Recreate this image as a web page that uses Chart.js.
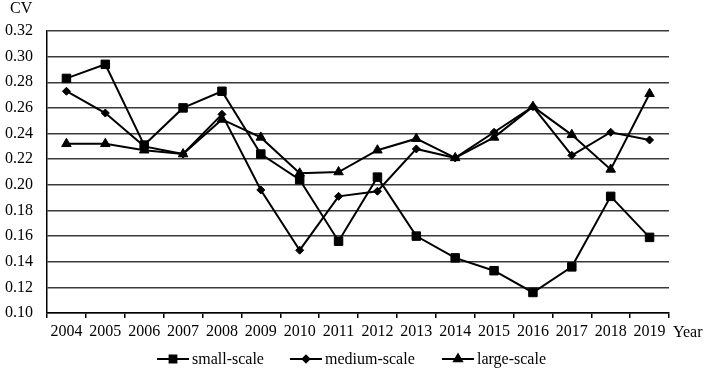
<!DOCTYPE html>
<html><head><meta charset="utf-8">
<script src="https://cdn.jsdelivr.net/npm/chart.js@4/dist/chart.umd.min.js"></script>
<style>html,body{margin:0;padding:0;background:#fff}#wrap{width:706px;height:371px}</style>
</head><body><div id="wrap"><canvas id="c" width="706" height="371"></canvas></div>
<script>
const years = ['2004','2005','2006','2007','2008','2009','2010','2011','2012','2013','2014','2015','2016','2017','2018','2019'];
const smallScale = [0.283,0.294,0.231,0.260,0.273,0.224,0.204,0.156,0.206,0.160,0.143,0.133,0.116,0.136,0.191,0.159];
const mediumScale = [0.273,0.256,0.230,0.224,0.255,0.196,0.149,0.191,0.195,0.228,0.221,0.241,0.261,0.223,0.241,0.235];
const largeScale = [0.232,0.232,0.227,0.224,0.251,0.237,0.209,0.210,0.227,0.236,0.221,0.237,0.261,0.239,0.212,0.271];
const yTicks = [0.10,0.12,0.14,0.16,0.18,0.20,0.22,0.24,0.26,0.28,0.30,0.32];
const seriesNames = ['small-scale','medium-scale','large-scale'];
const yTitle = 'CV';
const xTitle = 'Year';

const FONT = '"Liberation Serif", "Times New Roman", serif';
const styles = [
  {pointStyle:'rect', pointRadius:6, legendRadius:4.8},
  {pointStyle:'rectRot', pointRadius:4, legendRadius:3.3},
  {pointStyle:'triangle', pointRadius:5.5, legendRadius:4.5}
];
const seriesData = [smallScale, mediumScale, largeScale];

const extras = {
  id:'extras',
  afterDraw(chart){
    const ctx = chart.ctx;
    ctx.save();
    ctx.fillStyle = '#000';
    ctx.font = '16px ' + FONT;
    ctx.textBaseline = 'middle';
    ctx.textAlign = 'left';
    ctx.fillText(yTitle, 10, 9);
    ctx.fillText(xTitle, 673, 333);
    // legend
    const lx = [157, 290, 442];
    const ly = 359;
    chart.data.datasets.forEach((ds, i) => {
      const x0 = lx[i];
      ctx.strokeStyle = '#000';
      ctx.lineWidth = 2;
      ctx.beginPath();
      ctx.moveTo(x0, ly); ctx.lineTo(x0 + 32, ly); ctx.stroke();
      ctx.fillStyle = '#000';
      Chart.helpers.drawPoint(ctx, {pointStyle: ds.pointStyle, radius: styles[i].legendRadius, rotation: 0, borderWidth: 1}, x0 + 16, ly);
      ctx.fillStyle = '#000';
      ctx.fillText(ds.label, x0 + 35, ly + 1);
    });
    ctx.restore();
  }
};

new Chart(document.getElementById('c'), {
  type:'line',
  data:{
    labels: years,
    datasets: seriesData.map((d, i) => ({
      label: seriesNames[i],
      data: d,
      borderColor:'#000',
      backgroundColor:'#000',
      borderWidth:2,
      tension:0,
      pointStyle: styles[i].pointStyle,
      pointRadius: styles[i].pointRadius,
      pointBorderWidth:1,
      pointBackgroundColor:'#000',
      pointBorderColor:'#000'
    }))
  },
  options:{
    responsive:false,
    animation:false,
    layout:{padding:{top:31, right:37, left:0, bottom:0}},
    plugins:{legend:{display:false}, tooltip:{enabled:false}},
    scales:{
      x:{
        offset:true,
        grid:{offset:true, drawOnChartArea:false, drawTicks:true, tickLength:5, color:'#000', lineWidth:1.5},
        border:{color:'#000', width:1.5},
        ticks:{font:{family:FONT, size:16}, color:'#000', padding:4, maxRotation:0, autoSkip:false},
        afterFit(s){ s.height = 58; }
      },
      y:{
        min:0.10, max:0.32,
        afterBuildTicks(s){ s.ticks = yTicks.map(v => ({value:v})); },
        grid:{drawTicks:false, color:'#3a3a3a', lineWidth:1.5},
        border:{color:'#000', width:1.5},
        ticks:{font:{family:FONT, size:16}, color:'#000', padding:14, callback:v => Number(v).toFixed(2)},
        afterFit(s){ s.width = 47; }
      }
    }
  },
  plugins:[extras]
});
</script>
</body></html>
